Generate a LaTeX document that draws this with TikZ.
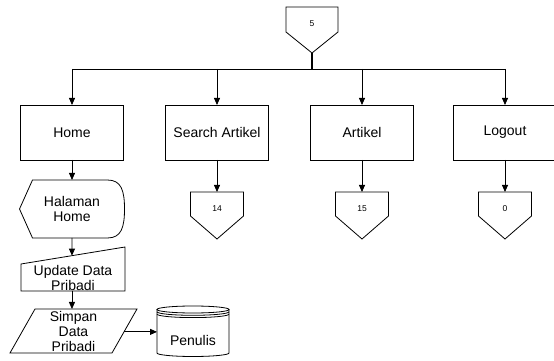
\documentclass[tikz,border=0pt]{standalone}
\usepackage{fontspec}
\setmainfont{Liberation Sans}
\usetikzlibrary{positioning, arrows.meta, calc}

\begin{document}
\begin{tikzpicture}[x=1pt, y=1pt, line width=0.8pt,
    every node/.style={font=\fontsize{14}{15}\selectfont, align=center, inner sep=0pt, outer sep=0pt},
    proc/.style={draw, minimum width=103.5pt, minimum height=55pt},
    offpage/.style={minimum width=53pt, minimum height=24pt, font=\fontsize{8.5}{10}\selectfont, text height=15pt, text depth=0pt},
    flow/.style={draw, -{Triangle[length=7pt, width=6pt]}}
]
\useasboundingbox (0,0) rectangle (554,361);

% top connector
\node[offpage, minimum width=52pt, minimum height=25pt] (c5) at (312,341.5) {5};
\coordinate (hub) at (312,292);

% menu
\node[proc] (home) at (72,228.5) {Home};
\node[proc] (search) at (217,228.5) {Search Artikel};
\node[proc] (artikel) at (362,228.5) {Artikel};
\node[proc] (logout) at (505,228.5) {Logout};

\node[offpage, below=32pt of search] (c14) {14};
\node[offpage, below=32pt of artikel] (c15) {15};
\node[offpage, below=32pt of logout] (c0) {0};

\foreach \n/\d in {c5/21, c14/23, c15/23, c0/23}
    \draw (\n.north west) -- (\n.north east) -- (\n.south east) -- ($(\n.south)+(0,-\d)$) -- (\n.south west) -- cycle;

\draw[line width=2pt] ($(c5.south)+(0,-21)$) -- (hub);
\draw (hub -| home) -- (hub -| logout);
\foreach \b in {home, search, artikel, logout}
    \draw[flow] (hub -| \b) -- (\b.north);
\draw[flow] (search) -- (c14);
\draw[flow] (artikel) -- (c15);
\draw[flow] (logout) -- (c0);

% halaman home (display)
\node[minimum width=105pt, minimum height=58pt, below=20pt of home] (hal) {Halaman\\Home};
\draw (hal.west) -- ($(hal.north west)+(13,0)$) -- ($(hal.north east)+(-17,0)$)
    .. controls ($(hal.north east)+(-3,0)$) and ($(hal.east)+(0,18)$) .. (hal.east)
    .. controls ($(hal.east)+(0,-18)$) and ($(hal.south east)+(-3,0)$) .. ($(hal.south east)+(-17,0)$)
    -- ($(hal.south west)+(13,0)$) -- cycle;
\draw[flow] (home) -- (hal);

% update data pribadi (manual input)
\node (upd) at (73,83.5) {Update Data\\Pribadi};
\coordinate (u1) at (21,97);
\coordinate (u2) at (125,114);
\coordinate (u3) at (125,70);
\coordinate (u4) at (21,70);
\draw (u1) -- (u2) -- (u3) -- (u4) -- cycle;
\coordinate (utop) at ($(u1)!0.49!(u2)$);
\coordinate (ubot) at ($(u4)!0.49!(u3)$);
\draw[flow] (hal.south) -- (utop);

% simpan data pribadi
\node (sim) at (73.5,30) {Simpan\\Data\\Pribadi};
\coordinate (s1) at (35,52);
\coordinate (s2) at (137,52);
\coordinate (s3) at (112,8);
\coordinate (s4) at (10,8);
\draw (s1) -- (s2) -- (s3) -- (s4) -- cycle;
\coordinate (sr) at ($(s3)!0.48!(s2)$);
\draw[flow] (ubot) -- (ubot |- s1);

% penulis (data store)
\node[minimum width=72pt] (pen) at (193,20.5) {Penulis};
\draw ($(pen.west)+(0,31)$) -- ($(pen.west)+(0,-12.5)$)
    arc[start angle=180, end angle=360, x radius=36, y radius=3.5] -- ($(pen.east)+(0,31)$);
\draw ($(pen)+(0,31)$) ellipse [x radius=36, y radius=3.5];
\foreach \dy in {28.7, 26.4}
    \draw ($(pen.west)+(0,\dy)$) arc[start angle=180, end angle=360, x radius=36, y radius=3.5];
\draw[flow] (sr) -- (sr -| pen.west);
\end{tikzpicture}
\end{document}
